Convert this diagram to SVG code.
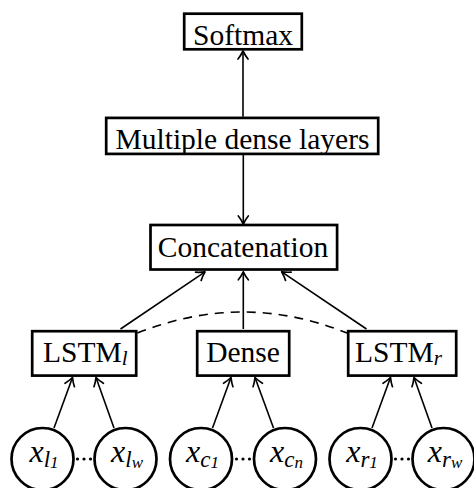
<svg xmlns="http://www.w3.org/2000/svg" width="474" height="488" viewBox="0 0 474 488">
<style>
.box{fill:#fff;stroke:#000;stroke-width:2.7}
.circ{fill:#fff;stroke:#000;stroke-width:2.7}
.lbl{font-family:"Liberation Serif","Times New Roman",serif;font-size:29.5px;fill:#000}
.sub{font-style:italic;font-size:21px}
.m{font-family:"Liberation Serif","Times New Roman",serif;font-size:32px;font-style:italic;fill:#000}
.s1{font-size:23px;font-style:italic}
.s2{font-size:17px}
.s2i{font-size:17px;font-style:italic}
.edge{stroke:#000;stroke-width:1.6;fill:none;marker-end:url(#arr)}
.dash{stroke:#000;stroke-width:1.6;fill:none;stroke-dasharray:9 7}
.dot{fill:#000}
</style>
<defs>
<marker id="arr" markerUnits="userSpaceOnUse" markerWidth="16" markerHeight="16" viewBox="-12 -8 16 16" refX="0" refY="0" orient="auto">
<path d="M-8,-5 C-5.5,-2.9 -1.8,-0.9 0,0 C-1.8,0.9 -5.5,2.9 -8,5" fill="none" stroke="#000" stroke-width="1.7" stroke-linecap="round" stroke-linejoin="round"/>
</marker>
</defs>
<g id="connectors">
<line class="edge" x1="243" y1="116.7" x2="243" y2="51"/>
<line class="edge" x1="243.3" y1="155" x2="243.3" y2="224"/>
<line class="edge" x1="120.5" y1="329" x2="205" y2="271.8"/>
<line class="edge" x1="243.3" y1="329" x2="243.3" y2="271.8"/>
<line class="edge" x1="366.5" y1="329" x2="281.7" y2="271.8"/>
<path class="dash" d="M137.4,333 Q243,291 347,333"/>
<line class="edge" x1="54" y1="428" x2="72.5" y2="377.5"/>
<line class="edge" x1="114" y1="428" x2="96" y2="377.5"/>
<line class="edge" x1="212.5" y1="428" x2="231" y2="377.5"/>
<line class="edge" x1="273.5" y1="428" x2="255" y2="377.5"/>
<line class="edge" x1="372" y1="428" x2="390.5" y2="377.5"/>
<line class="edge" x1="432" y1="428" x2="414" y2="377.5"/>
</g>
<g id="softmax">
<rect class="box" x="184.2" y="13.7" width="117.6" height="35.6"/>
<text class="lbl" x="243" y="44.5" text-anchor="middle">Softmax</text>
</g>
<g id="dense-layers">
<rect class="box" x="106.2" y="117.9" width="272" height="36"/>
<text class="lbl" x="242.5" y="149" text-anchor="middle">Multiple dense layers</text>
</g>
<g id="concatenation">
<rect class="box" x="150.5" y="225" width="186.6" height="44.5"/>
<text class="lbl" x="243" y="256.7" text-anchor="middle">Concatenation</text>
</g>
<g id="lstm-l">
<rect class="box" x="32.2" y="331.2" width="104" height="44.4"/>
<text class="lbl" x="43" y="362">LSTM<tspan class="sub" dy="3">l</tspan></text>
</g>
<g id="dense">
<rect class="box" x="197.2" y="331.2" width="92" height="44.4"/>
<text class="lbl" x="243" y="362" text-anchor="middle">Dense</text>
</g>
<g id="lstm-r">
<rect class="box" x="348.2" y="331.2" width="108" height="44.4"/>
<text class="lbl" x="355" y="362">LSTM<tspan class="sub" dy="3">r</tspan></text>
</g>
<g id="x-l1">
<circle class="circ" cx="42.5" cy="459" r="31"/>
<text class="m" x="44" y="462" text-anchor="middle">x<tspan class="s1" dy="4.5">l</tspan><tspan class="s2" dy="1.5">1</tspan></text>
</g>
<g id="x-lw">
<circle class="circ" cx="125.5" cy="459" r="31"/>
<text class="m" x="127" y="462" text-anchor="middle">x<tspan class="s1" dy="4.5">l</tspan><tspan class="s2i" dy="1.5">w</tspan></text>
</g>
<g id="x-c1">
<circle class="circ" cx="201" cy="459" r="31"/>
<text class="m" x="202.5" y="462" text-anchor="middle">x<tspan class="s1" dy="4.5">c</tspan><tspan class="s2" dy="1.5">1</tspan></text>
</g>
<g id="x-cn">
<circle class="circ" cx="285" cy="459" r="31"/>
<text class="m" x="286.5" y="462" text-anchor="middle">x<tspan class="s1" dy="4.5">c</tspan><tspan class="s2i" dy="1.5">n</tspan></text>
</g>
<g id="x-r1">
<circle class="circ" cx="360.5" cy="459" r="31"/>
<text class="m" x="362" y="462" text-anchor="middle">x<tspan class="s1" dy="4.5">r</tspan><tspan class="s2" dy="1.5">1</tspan></text>
</g>
<g id="x-rw">
<circle class="circ" cx="443.5" cy="459" r="31"/>
<text class="m" x="445" y="462" text-anchor="middle">x<tspan class="s1" dy="4.5">r</tspan><tspan class="s2i" dy="1.5">w</tspan></text>
</g>
<g id="dots">
<circle class="dot" cx="77.5" cy="459" r="1.6"/><circle class="dot" cx="84" cy="459" r="1.6"/><circle class="dot" cx="90.5" cy="459" r="1.6"/>
<circle class="dot" cx="236.5" cy="459" r="1.6"/><circle class="dot" cx="243" cy="459" r="1.6"/><circle class="dot" cx="249.5" cy="459" r="1.6"/>
<circle class="dot" cx="395.5" cy="459" r="1.6"/><circle class="dot" cx="402" cy="459" r="1.6"/><circle class="dot" cx="408.5" cy="459" r="1.6"/>
</g>
</svg>
